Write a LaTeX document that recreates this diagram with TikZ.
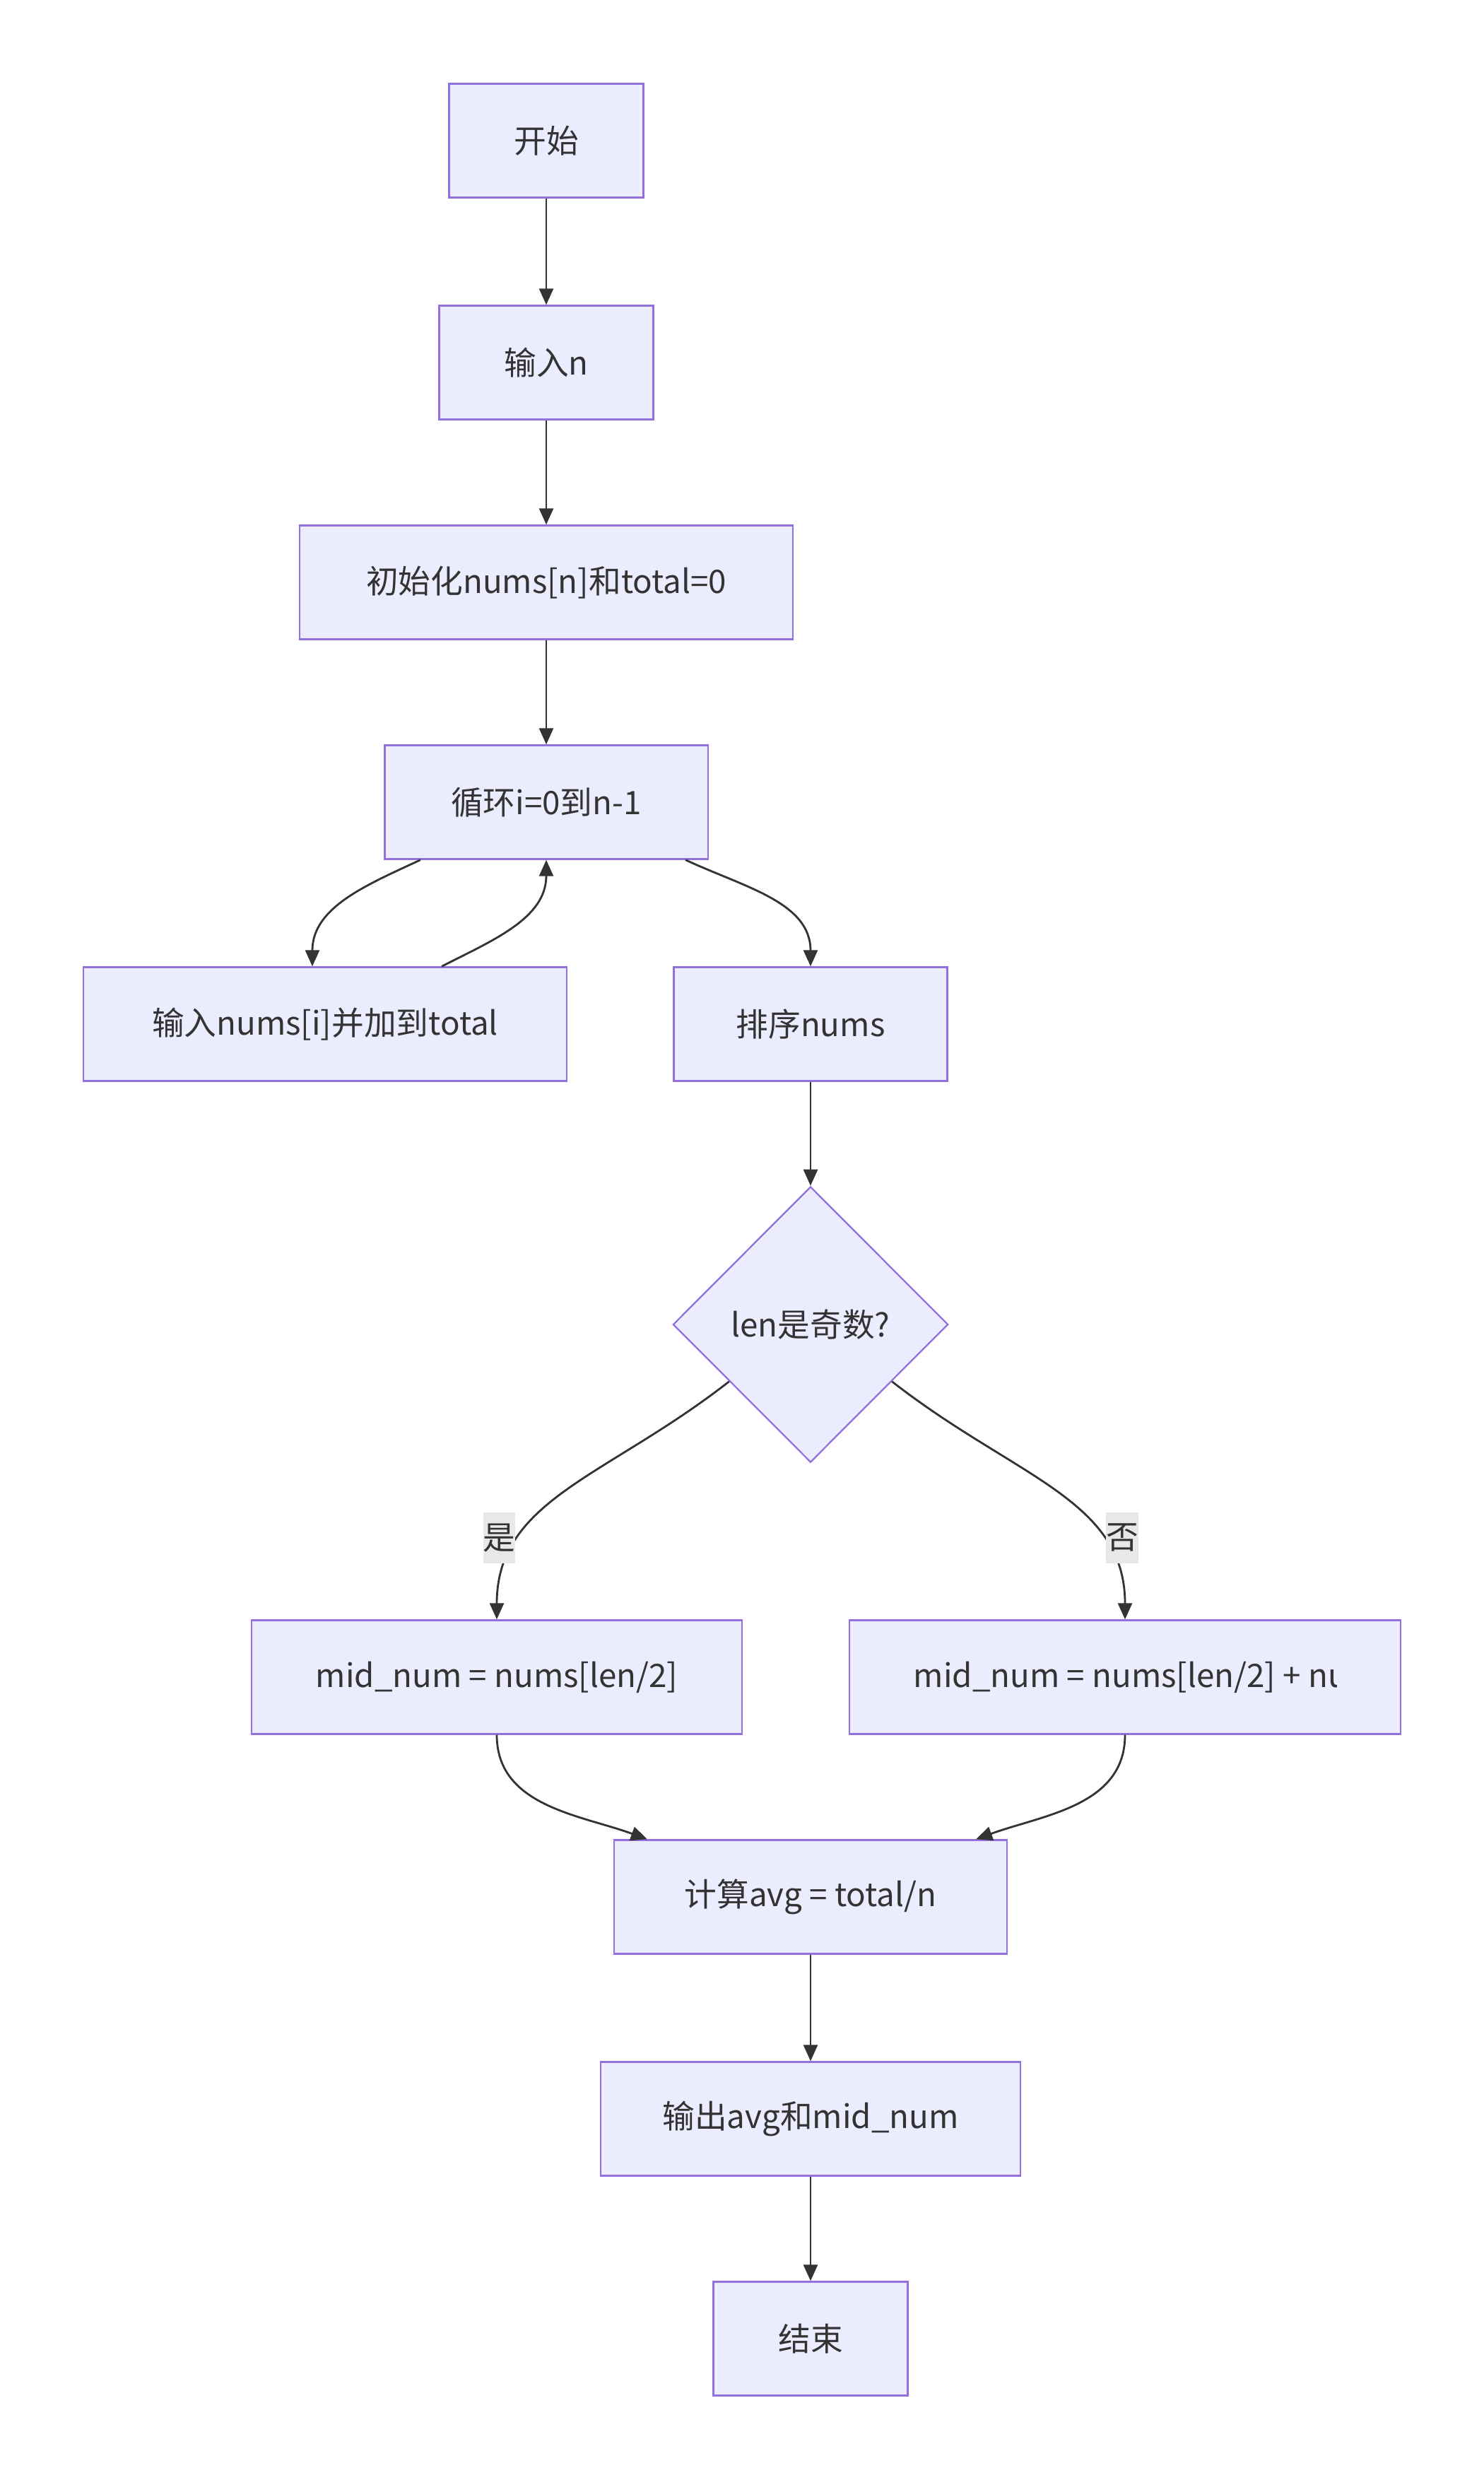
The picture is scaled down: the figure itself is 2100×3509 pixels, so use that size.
\documentclass[tikz,border=0pt]{standalone}
\usepackage{fontspec}
\setmainfont{Noto Sans CJK SC}
\usepackage{xcolor}
\usetikzlibrary{arrows.meta,shapes.geometric}
\definecolor{boxfill}{HTML}{ECECFF}
\definecolor{boxline}{HTML}{9370DB}
\definecolor{ink}{HTML}{333333}
\definecolor{lblfill}{HTML}{E8E8E8}
\tikzset{
proc/.style={draw=boxline,fill=boxfill,line width=0.65pt,minimum height=1.61cm,inner sep=0pt,text=ink},
cond/.style={diamond,draw=boxline,fill=boxfill,line width=0.65pt,minimum width=3.89cm,minimum height=3.9cm,inner sep=0pt,text=ink},
flow/.style={draw=ink,line width=0.8pt,->},
lbl/.style={fill=lblfill,inner sep=0pt,minimum height=0.72cm,text=ink}
}

\begin{document}
\begin{tikzpicture}[x=0.01cm,y=-0.01cm,>={Triangle[length=0.23cm,width=0.2cm]},font=\fontsize{13pt}{16pt}\selectfont]
\useasboundingbox (0,0) rectangle (2100,3509);
\node[proc,minimum width=2.75cm] (start) at (773,199) {开始};
\node[proc,minimum width=3.03cm] (readN) at (773,513) {输入n};
\node[proc,minimum width=6.97cm] (init) at (773,824) {初始化nums[n]和total=0};
\node[proc,minimum width=4.57cm] (loop) at (773,1135) {循环i=0到n-1};
\node[proc,minimum width=6.83cm] (readNum) at (460,1449) {输入nums[i]并加到total};
\node[proc,minimum width=3.87cm] (sortN) at (1147,1449) {排序nums};
\node[cond] (odd) at (1147,1874) {len是奇数?};
\node[proc,minimum width=6.94cm] (midOdd) at (703,2373) {mid\_num = nums[len/2]};
\node[proc,minimum width=7.79cm] (midEven) at (1592,2373) {};
\begin{scope}
\clip ([xshift=0.91cm]midEven.south west) rectangle ([xshift=-0.91cm]midEven.north east);
\node[anchor=west,inner sep=0pt,text=ink] (evenTxt) at ([xshift=0.91cm]midEven.west) {mid\_num = nums[len/2] + nums[len/2-1]};
\end{scope}
\node[proc,minimum width=5.55cm] (avg) at (1147,2684) {计算avg = total/n};
\node[proc,minimum width=5.93cm] (output) at (1147,2998) {输出avg和mid\_num};
\node[proc,minimum width=2.75cm] (stop) at (1147,3309) {结束};

\draw[flow] (start) -- (readN);
\draw[flow] (readN) -- (init);
\draw[flow] (init) -- (loop);
\draw[flow] ([xshift=-1.78cm]loop.south) to[out=-155,in=90] ([xshift=-0.18cm]readNum.north);
\draw[flow] ([xshift=1.65cm]readNum.north) to[out=27,in=-90] (loop.south);
\draw[flow] ([xshift=1.97cm]loop.south) to[out=-25,in=90] (sortN.north);
\draw[flow] (sortN) -- (odd);
\draw[flow] (odd.215) to[out=-142,in=90,out distance=2.2cm,in distance=1.7cm] node[lbl,pos=0.72,xshift=-0.3cm]{是} (midOdd.north);
\draw[flow] (odd.325) to[out=-38,in=90,out distance=2.2cm,in distance=1.7cm] node[lbl,pos=0.72,xshift=0.3cm]{否} (midEven.north);
\draw[flow] (midOdd.south) to[out=-90,in=160] ([xshift=-2.31cm]avg.north);
\draw[flow] (midEven.south) to[out=-90,in=20] ([xshift=2.34cm]avg.north);
\draw[flow] (avg) -- (output);
\draw[flow] (output) -- (stop);
\end{tikzpicture}
\end{document}
